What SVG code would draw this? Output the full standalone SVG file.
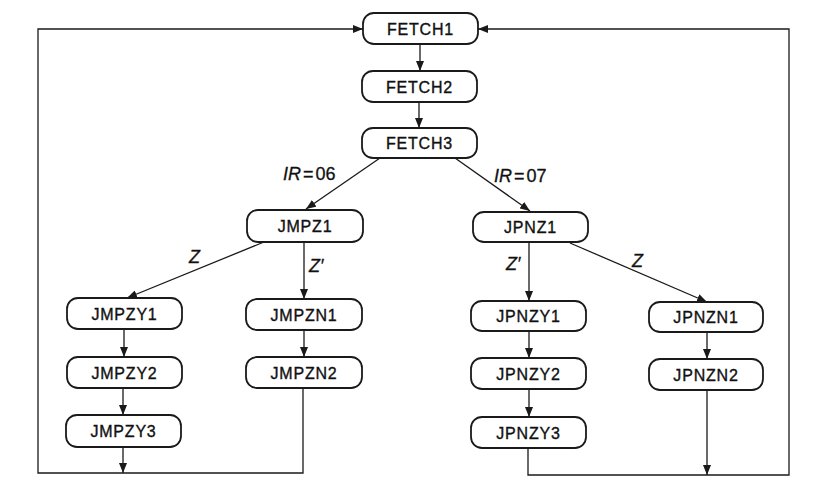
<svg xmlns="http://www.w3.org/2000/svg" width="833" height="492" viewBox="0 0 833 492">
<style>
.box{fill:#fff;stroke:#1a1a1a;stroke-width:1.8}
.lbl{font-family:"Liberation Sans",Arial,sans-serif;font-size:16px;fill:#111;stroke:#111;stroke-width:0.35;text-anchor:middle;letter-spacing:0.8px}
.ed{fill:none;stroke:#1a1a1a;stroke-width:1.3}
.el{font-family:"Liberation Sans",Arial,sans-serif;font-size:18px;fill:#111;stroke:#111;stroke-width:0.3;font-style:italic}
</style>
<defs>
<marker id="ah" viewBox="0 0 10 8" refX="10" refY="4" markerWidth="10" markerHeight="8" markerUnits="userSpaceOnUse" orient="auto">
<path d="M0,0 L10,4 L0,8 Z" fill="#1a1a1a"/>
</marker>
</defs>
<g id="connectors">
<line class="ed" x1="420" y1="44" x2="420" y2="71" marker-end="url(#ah)"/>
<line class="ed" x1="419" y1="102" x2="419" y2="128" marker-end="url(#ah)"/>
<line class="ed" x1="380" y1="158" x2="306" y2="209" marker-end="url(#ah)"/>
<line class="ed" x1="455" y1="158" x2="530" y2="211" marker-end="url(#ah)"/>
<line class="ed" x1="264" y1="242" x2="127" y2="298" marker-end="url(#ah)"/>
<line class="ed" x1="304" y1="242" x2="304" y2="299" marker-end="url(#ah)"/>
<line class="ed" x1="124" y1="329" x2="124" y2="357" marker-end="url(#ah)"/>
<line class="ed" x1="123" y1="388" x2="123" y2="415" marker-end="url(#ah)"/>
<line class="ed" x1="123" y1="447" x2="123" y2="473" marker-end="url(#ah)"/>
<line class="ed" x1="304" y1="330" x2="304" y2="357" marker-end="url(#ah)"/>
<line class="ed" x1="529" y1="242" x2="529" y2="301" marker-end="url(#ah)"/>
<line class="ed" x1="570" y1="243" x2="707" y2="302" marker-end="url(#ah)"/>
<line class="ed" x1="529" y1="331" x2="529" y2="358" marker-end="url(#ah)"/>
<line class="ed" x1="529" y1="389" x2="529" y2="417" marker-end="url(#ah)"/>
<line class="ed" x1="707" y1="332" x2="707" y2="359" marker-end="url(#ah)"/>
<line class="ed" x1="707" y1="390" x2="707" y2="475" marker-end="url(#ah)"/>
<polyline class="ed" points="303,388 303,473 38,473 38,29 363,29" marker-end="url(#ah)"/>
<polyline class="ed" points="528,448 528,475 789,475 789,29 478,29" marker-end="url(#ah)"/>
<text class="el" x="283" y="180">IR<tspan font-style="normal" dx="2">=</tspan><tspan font-style="normal" dx="2">06</tspan></text>
<text class="el" x="494" y="182">IR<tspan font-style="normal" dx="2">=</tspan><tspan font-style="normal" dx="2">07</tspan></text>
<text class="el" x="189" y="263">Z</text>
<text class="el" x="309" y="272">Z′</text>
<text class="el" x="506" y="270">Z′</text>
<text class="el" x="632" y="267">Z</text>
</g>
<g id="FETCH1"><rect class="box" x="363" y="13" width="115" height="31" rx="11"/><text class="lbl" x="420.5" y="34.5">FETCH1</text></g>
<g id="FETCH2"><rect class="box" x="362" y="71" width="115" height="31" rx="11"/><text class="lbl" x="419.5" y="92.5">FETCH2</text></g>
<g id="FETCH3"><rect class="box" x="362" y="128" width="115" height="30" rx="11"/><text class="lbl" x="419.5" y="149">FETCH3</text></g>
<g id="JMPZ1"><rect class="box" x="247" y="210" width="116" height="32" rx="11"/><text class="lbl" x="305" y="232">JMPZ1</text></g>
<g id="JPNZ1"><rect class="box" x="473" y="212" width="115" height="30" rx="11"/><text class="lbl" x="530.5" y="233">JPNZ1</text></g>
<g id="JMPZY1"><rect class="box" x="67" y="298" width="115" height="31" rx="11"/><text class="lbl" x="124.5" y="319.5">JMPZY1</text></g>
<g id="JMPZY2"><rect class="box" x="67" y="357" width="115" height="31" rx="11"/><text class="lbl" x="124.5" y="378.5">JMPZY2</text></g>
<g id="JMPZY3"><rect class="box" x="66" y="415" width="115" height="32" rx="11"/><text class="lbl" x="123.5" y="437">JMPZY3</text></g>
<g id="JMPZN1"><rect class="box" x="246" y="299" width="116" height="31" rx="11"/><text class="lbl" x="304" y="320.5">JMPZN1</text></g>
<g id="JMPZN2"><rect class="box" x="246" y="357" width="116" height="31" rx="11"/><text class="lbl" x="304" y="378.5">JMPZN2</text></g>
<g id="JPNZY1"><rect class="box" x="471" y="301" width="115" height="30" rx="11"/><text class="lbl" x="528.5" y="322">JPNZY1</text></g>
<g id="JPNZY2"><rect class="box" x="471" y="358" width="115" height="31" rx="11"/><text class="lbl" x="528.5" y="379.5">JPNZY2</text></g>
<g id="JPNZY3"><rect class="box" x="471" y="417" width="115" height="31" rx="11"/><text class="lbl" x="528.5" y="438.5">JPNZY3</text></g>
<g id="JPNZN1"><rect class="box" x="649" y="302" width="114" height="30" rx="11"/><text class="lbl" x="706" y="323">JPNZN1</text></g>
<g id="JPNZN2"><rect class="box" x="649" y="359" width="114" height="31" rx="11"/><text class="lbl" x="706" y="380.5">JPNZN2</text></g>
</svg>
